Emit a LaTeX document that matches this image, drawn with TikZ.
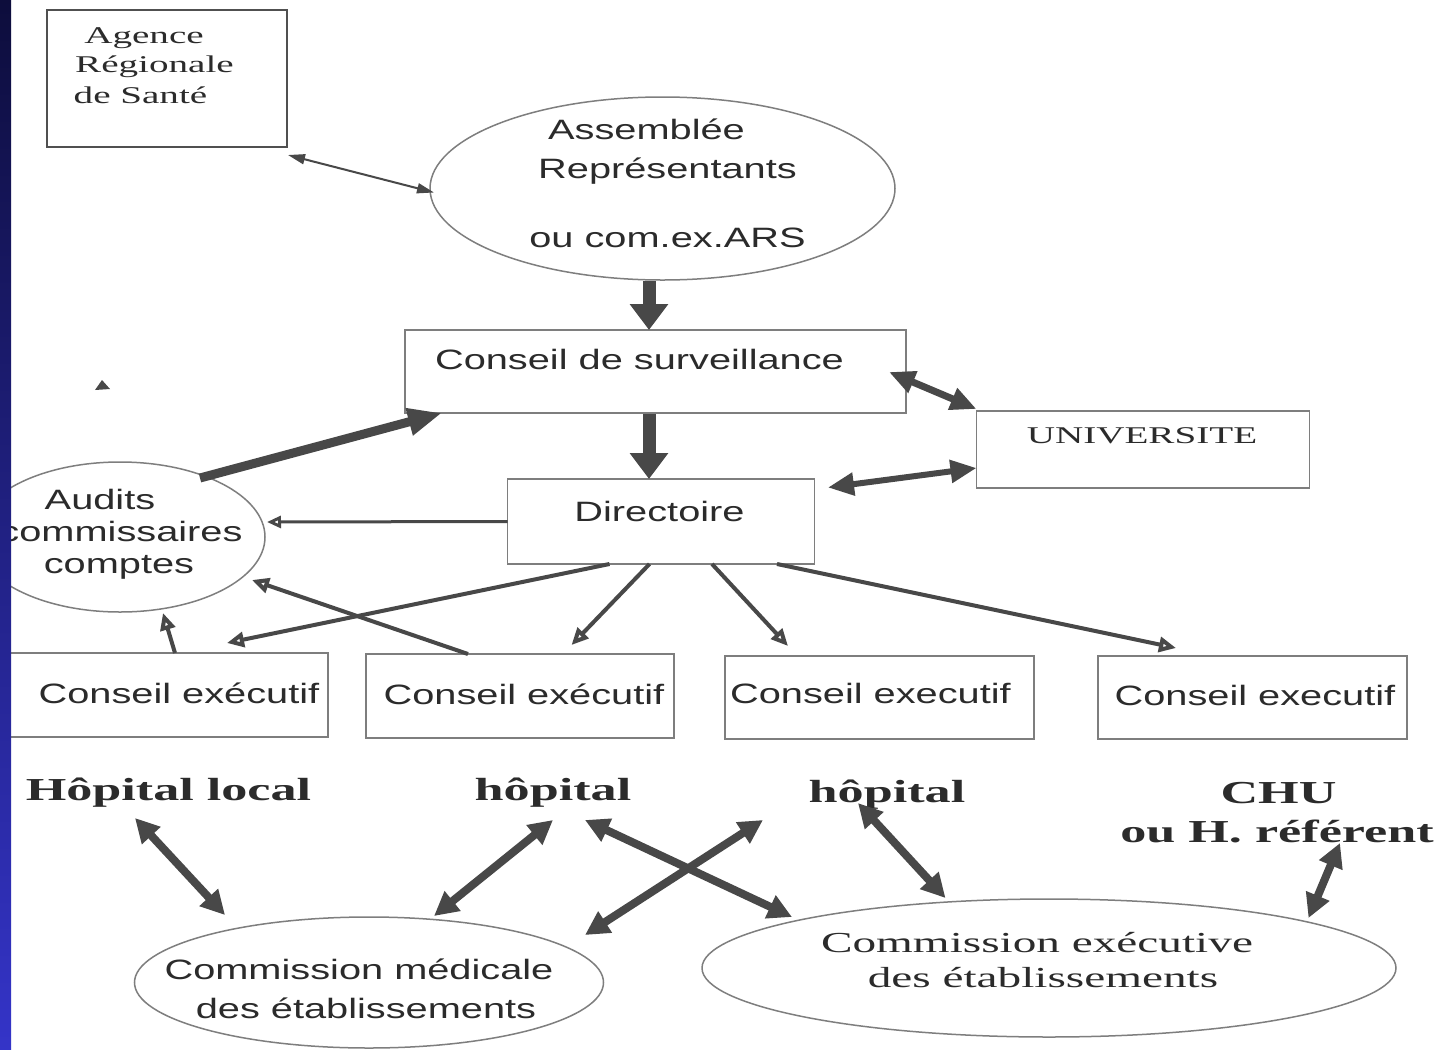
\documentclass[tikz,border=0pt]{standalone}
\usepackage{fontspec}
\usetikzlibrary{shapes.geometric,arrows.meta,calc}
\newfontfamily\sfw[FakeStretch=1.42]{Liberation Sans}
\newfontfamily\rmw[FakeStretch=1.63]{Liberation Serif}
\definecolor{boxc}{HTML}{7E7E7E}
\definecolor{arsc}{HTML}{505050}
\definecolor{txtc}{HTML}{2B2B2B}
\definecolor{arrc}{HTML}{484848}
\definecolor{stript}{HTML}{0D0D3C}
\definecolor{stripb}{HTML}{3434C8}
\begin{document}
\begin{tikzpicture}[x=1pt,y=-1pt,
  boxst/.style={draw=boxc, line width=1.5pt, rectangle, inner sep=0pt, outer sep=0pt},
  ellst/.style={draw=boxc, line width=1.5pt, ellipse, inner sep=0pt, outer sep=0pt},
  sanst/.style={font=\sfw\fontsize{28}{30}\selectfont, text=txtc, anchor=base, inner sep=0pt},
  serst/.style={font=\rmw\fontsize{24}{26}\selectfont, text=txtc, anchor=base, inner sep=0pt},
  ceest/.style={font=\rmw\fontsize{29}{31}\selectfont, text=txtc, anchor=base, inner sep=0pt},
  boldst/.style={font=\rmw\bfseries\fontsize{32}{34}\selectfont, text=txtc, anchor=base, inner sep=0pt},
  thinarr/.style={draw=arrc, line width=2pt, {Triangle[length=17pt,width=10pt]}-{Triangle[length=17pt,width=10pt]}},
  blockarr/.style={draw=arrc, line width=13pt, -{Triangle[length=26pt,width=37pt]}},
  dblarr/.style={draw=arrc, line width=8pt, {Triangle[length=24pt,width=24pt]}-{Triangle[length=24pt,width=24pt]}},
  unarr/.style={draw=arrc, line width=7pt, {Triangle[length=26pt,width=22pt]}-{Triangle[length=26pt,width=22pt]}},
  openarr/.style={draw=arrc, line width=4pt, -{Triangle[open,length=17pt,width=15pt]}},
  opensm/.style={draw=arrc, line width=3pt, -{Triangle[open,length=14pt,width=12pt]}}
]
\useasboundingbox (0,0) rectangle (1444,1050);
\fill[white] (0,0) rectangle (1444,1050);

% boxes
\node[boxst, draw=arsc, line width=2pt, minimum width=240pt, minimum height=137pt] (ars) at (167,78.5) {};
\node[boxst, minimum width=501pt, minimum height=83pt] (cs) at (655.5,371.5) {};
\node[boxst, minimum width=333pt, minimum height=77pt] (univ) at (1143,449.5) {};
\node[boxst, minimum width=307pt, minimum height=85pt] (dir) at (661,521.5) {};
\node[boxst, minimum width=323pt, minimum height=84pt] (ce1) at (166.5,695) {};
\node[boxst, minimum width=308pt, minimum height=84pt] (ce2) at (520,696) {};
\node[boxst, minimum width=309pt, minimum height=83pt] (ce3) at (879.5,697.5) {};
\node[boxst, minimum width=309pt, minimum height=83pt] (ce4) at (1252.5,697.5) {};

% ellipses
\node[ellst, minimum width=465pt, minimum height=183pt] (asm) at (662.5,188.5) {};
\node[ellst, minimum width=290pt, minimum height=150pt] (aud) at (120,537) {};
\node[ellst, minimum width=469pt, minimum height=131pt] (cme) at (369,982.5) {};
\node[ellst, minimum width=694pt, minimum height=138pt] (cee) at (1049,968) {};

% texts
\node[serst] (t-ag) at (144,43) {Agence};
\node[serst] (t-reg) at (154.5,72) {Régionale};
\node[serst] (t-sante) at (140.5,103) {de Santé};
\node[sanst] (t-asm1) at (646.5,139) {Assemblée};
\node[sanst] (t-asm2) at (667.5,178) {Représentants};
\node[sanst] (t-asm3) at (667.5,247) {ou com.ex.ARS};
\node[sanst] (t-cs) at (639.5,369) {Conseil de surveillance};
\node[serst] (t-univ) at (1142,443) {UNIVERSITE};
\node[sanst] (t-dir) at (659.5,521) {Directoire};
\node[sanst] (t-aud1) at (100,509) {Audits};
\node[sanst] (t-aud2) at (121,541) {commissaires};
\node[sanst] (t-aud3) at (119,573) {comptes};
\node[sanst] (t-ce1) at (179,703) {Conseil exécutif};
\node[sanst] (t-ce2) at (524,704) {Conseil exécutif};
\node[sanst] (t-ce3) at (870.5,703) {Conseil executif};
\node[sanst] (t-ce4) at (1255,705) {Conseil executif};
\node[boldst] (hl) at (168.5,800) {Hôpital local};
\node[boldst] (h1) at (553,800) {hôpital};
\node[boldst] (h2) at (887,802) {hôpital};
\node[boldst] (chu) at (1278.5,803) {CHU};
\node[boldst] (ref) at (1277,842) {ou H. référent};
\node[sanst] (t-cme1) at (359,979) {Commission médicale};
\node[sanst] (t-cme2) at (366,1018) {des établissements};
\node[ceest] (t-cee1) at (1037,952) {Commission exécutive};
\node[ceest] (t-cee2) at (1043,987) {des établissements};

% connectors
\draw[thinarr] ($(ars.south east)+(1,8)$) -- ($(asm.west)+(4,4)$);
\draw[blockarr] ($(asm.south)+(-13.5,1)$) -- ($(cs.north)+(-6.5,0)$);
\draw[blockarr] ($(cs.south)+(-6.5,1)$) -- ($(dir.north)+(-12,0)$);
\draw[unarr] ($(cs.east)+(-17,0.5)$) -- ($(univ.north west)+(0,-2)$);
\draw[unarr, line width=6pt] ($(dir.north east)+(13.5,8.5)$) -- ($(univ.west)+(0,18.5)$);
\draw[draw=arrc, line width=9pt, -{Triangle[length=34pt,width=26pt]}] ($(aud.center)+(80,-59)$) -- ($(cs.south west)+(37,0)$);
\draw[opensm] (dir.west) -- ($(aud.east)+(2,-15)$);
\draw[openarr] ($(dir.south)+(-51.5,0)$) -- ($(ce1.north)+(60.5,-10)$);
\draw[openarr] ($(dir.south)+(-11.5,0)$) -- ($(ce2.north)+(51.5,-9)$);
\draw[openarr] ($(dir.south)+(51,0)$) -- ($(ce3.north)+(-91.5,-10)$);
\draw[openarr] ($(dir.south)+(116,0)$) -- ($(ce4.north)+(-76.5,-8)$);
\draw[openarr] ($(ce2.north)+(-52,0)$) -- ($(aud.center)+(132,43)$);
\draw[openarr] ($(ce1.north)+(8.5,0)$) -- ($(aud.south)+(43,1)$);

\draw[dblarr] ($(hl.base)+(-33.5,18)$) -- ($(cme.north)+(-144,-2)$);
\draw[dblarr] ($(h1.base)+(0,20)$) -- ($(cme.north)+(65,-1)$);
\draw[dblarr] ($(h1.base)+(32,20)$) -- ($(cee.north)+(-257,18)$);
\draw[dblarr] ($(h2.base)+(-124,18)$) -- ($(cme.north)+(216,18)$);
\draw[dblarr] ($(h2.base)+(-29,1)$) -- ($(cee.north)+(-103.5,-1)$);
\draw[dblarr] ($(ref.base)+(63,1)$) -- ($(cee.north)+(259.5,19)$);

% small mark
\fill[arrc] (95,390) -- (102,380) -- (110,389) -- cycle;

% left strip
\shade[top color=stript, bottom color=stripb] (0,0) rectangle (11,1050);
\end{tikzpicture}
\end{document}
